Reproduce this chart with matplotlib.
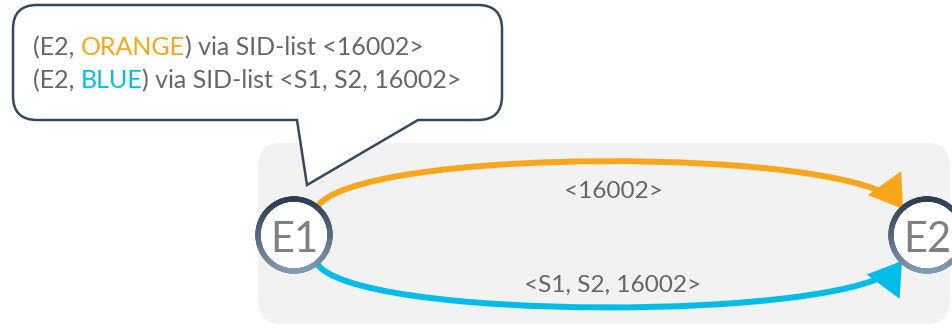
#!/usr/bin/env python3
""" two SR policies from E1 to E2, drawn as a small diagram """
import numpy as np
import matplotlib.pyplot as plt
from matplotlib.patches import FancyBboxPatch, PathPatch, FancyArrowPatch, Circle
from matplotlib.path import Path
from matplotlib.collections import LineCollection
from matplotlib.colors import to_rgb

FONT = ["Lato", "DejaVu Sans"]

node_names = ["E1", "E2"]
node_x = [294, 927]
node_y = 235

policy_names = ["ORANGE", "BLUE"]
policy_colors = ["#FAA61A", "#00BCE8"]
policy_sids = ["<16002>", "<S1, S2, 16002>"]
endpoint = "E2"

# start / end of each policy arc and the height of its control points, pixel space
arc_start = [(316, 209), (316, 262)]
arc_ctrl_y = [146, 322]
arc_end = [(903, 209), (902, 261)]
label_y = [198, 292]

GRAY_TEXT = "#666666"
EDGE = "#34495e"
FS = 17.6
FS_CALLOUT = 18


def ring(ax, cx, cy, r, top="#2b3d50", bottom="#8499b0"):
    th = np.linspace(0, 2 * np.pi, 241)
    xs = cx + r * np.cos(th)
    ys = cy + r * np.sin(th)
    pts = np.column_stack([xs, ys])
    segs = np.stack([pts[:-1], pts[1:]], axis=1)
    f = (np.sin((th[:-1] + th[1:]) / 2) + 1) / 2
    c0, c1 = np.array(to_rgb(top)), np.array(to_rgb(bottom))
    cols = c0[None, :] * (1 - f[:, None]) + c1[None, :] * f[:, None]
    ax.add_patch(Circle((cx, cy), r, facecolor="white", edgecolor="none", zorder=5))
    ax.add_collection(LineCollection(segs, colors=cols, linewidths=3.8, zorder=6,
                                     capstyle="round"))


def callout(ax, x0, x1, y0, y1, r, tail):
    (bl, br, tip) = tail
    verts = [(x0 + r, y0), (x1 - r, y0), (x1, y0), (x1, y0 + r),
             (x1, y1 - r), (x1, y1), (x1 - r, y1),
             (br, y1), tip, (bl, y1),
             (x0 + r, y1), (x0, y1), (x0, y1 - r),
             (x0, y0 + r), (x0, y0), (x0 + r, y0), (x0 + r, y0)]
    codes = [Path.MOVETO, Path.LINETO, Path.CURVE3, Path.CURVE3,
             Path.LINETO, Path.CURVE3, Path.CURVE3,
             Path.LINETO, Path.LINETO, Path.LINETO,
             Path.LINETO, Path.CURVE3, Path.CURVE3,
             Path.LINETO, Path.CURVE3, Path.CURVE3, Path.CLOSEPOLY]
    ax.add_patch(PathPatch(Path(verts, codes), facecolor="white", edgecolor=EDGE,
                           linewidth=1.8, joinstyle="miter", zorder=8))


fig = plt.figure(figsize=(9.52, 3.26), dpi=100)
ax = fig.add_axes([0, 0, 1, 1])
ax.set_xlim(0, 952)
ax.set_ylim(326, 0)
ax.axis("off")

# gray domain
ax.add_patch(FancyBboxPatch((258, 143), 692, 181, boxstyle="round,pad=0,rounding_size=24",
                            facecolor="#f2f2f2", edgecolor="none", zorder=1))

# policy arcs
for (s, cy, e, col) in zip(arc_start, arc_ctrl_y, arc_end, policy_colors):
    p = Path([s, (s[0] + 30, cy), (e[0] - 45, cy), e],
             [Path.MOVETO, Path.CURVE4, Path.CURVE4, Path.CURVE4])
    ax.add_patch(FancyArrowPatch(path=p, arrowstyle="-|>,head_length=0.7,head_width=0.45",
                                 mutation_scale=24, color=col, linewidth=4.3,
                                 joinstyle="miter", zorder=3))

for sid, y in zip(policy_sids, label_y):
    ax.text(613, y, sid, ha="center", va="baseline", fontsize=FS, color=GRAY_TEXT,
            family=FONT, zorder=4)

# nodes
for name, x in zip(node_names, node_x):
    ring(ax, x, node_y, 36)
    ax.text(x, 252, name, ha="center", va="baseline", fontsize=30, color="#808080",
            family=FONT, zorder=7)

# callout box
callout(ax, 13, 502, 5, 120, 24, (297, 418, (307, 185)))

fig.canvas.draw()
renderer = fig.canvas.get_renderer()
inv = ax.transData.inverted()


def width(s):
    t = ax.text(0, 0, s, fontsize=FS_CALLOUT, family=FONT)
    bb = t.get_window_extent(renderer)
    t.remove()
    x0 = inv.transform((bb.x0, 0))[0]
    x1 = inv.transform((bb.x1, 0))[0]
    return x1 - x0


for name, col, sid, y in zip(policy_names, policy_colors, policy_sids, [55, 88]):
    head = "(" + endpoint + ", "
    w_all = width(head + name)
    w_name = width(name)
    x = 33
    ax.text(x, y, head, ha="left", va="baseline", fontsize=FS_CALLOUT, color=GRAY_TEXT,
            family=FONT, zorder=9)
    ax.text(x + w_all - w_name, y, name, ha="left", va="baseline", fontsize=FS_CALLOUT,
            color=col, family=FONT, zorder=9)
    ax.text(x + w_all, y, ") via SID-list " + sid, ha="left", va="baseline",
            fontsize=FS_CALLOUT, color=GRAY_TEXT, family=FONT, zorder=9)

fig.savefig("out.png", dpi=100)
